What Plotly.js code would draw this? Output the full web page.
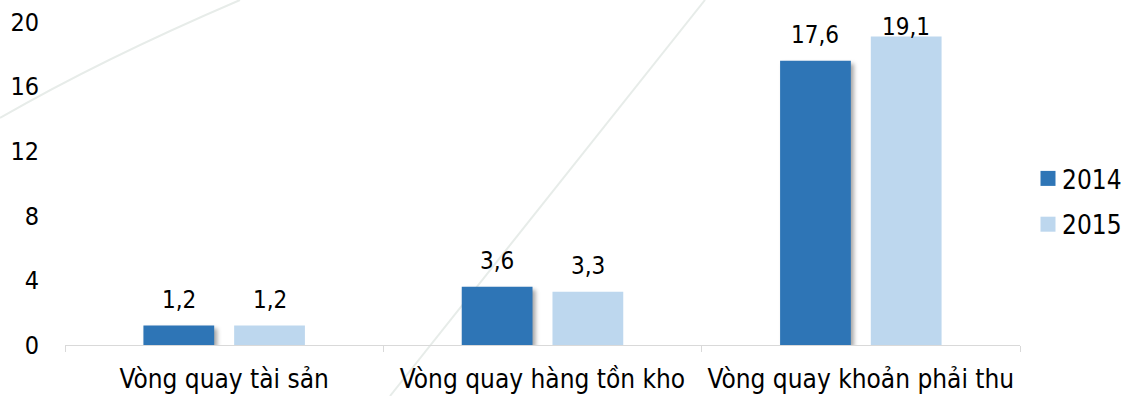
<!DOCTYPE html>
<html>
<head>
<meta charset="utf-8">
<script src="https://cdn.plot.ly/plotly-3.0.1.min.js"></script>
<style>
  html, body { margin: 0; padding: 0; background: #ffffff; }
  #wrap { position: relative; width: 1127px; height: 396px; overflow: hidden; }
  #bg { position: absolute; left: 0; top: 0; }
  #chart { position: absolute; left: 0; top: 0; width: 1127px; height: 396px; }
  /* soft drop shadow behind the darker bars */
  #chart .barlayer .trace:nth-child(1) .point path {
    filter: drop-shadow(3px 3px 2px rgba(0,0,0,0.35));
  }
  #chart .legend .legendpoints path {
    transform: translate(26px, 0) scale(1.25);
  }
</style>
</head>
<body>
<div id="wrap">
  <svg id="bg" width="1127" height="396">
    <path d="M0,118 Q100,60 240,0" fill="none" stroke="#e7ece9" stroke-width="2"/>
    <path d="M390,396 L705,0" fill="none" stroke="#e7ece9" stroke-width="2"/>
  </svg>
  <div id="chart"></div>
</div>
<script>
const categories = ['Vòng quay tài sản', 'Vòng quay hàng tồn kho', 'Vòng quay khoản phải thu'];
const seriesNames = ['2014', '2015'];
const values2014 = [1.2, 3.6, 17.6];
const values2015 = [1.2, 3.3, 19.1];
const yTicks = [0, 4, 8, 12, 16, 20];
const colors = ['#2E75B6', '#BDD7EE'];

const W = 1127, H = 396;
const M = { l: 65, r: 107, t: 22, b: 51 };
const Y_MAX = 20;
const BARGAP = 0.43;
const FAMILY = 'DejaVu Sans Condensed, DejaVu Sans, sans-serif';
const font = size => ({ family: FAMILY, size: size, color: '#000000' });

const plotW = W - M.l - M.r;
const plotH = H - M.t - M.b;
const pxPerCat = plotW / categories.length;
const slotShift = pxPerCat * (1 - BARGAP) / 4;

const series = [values2014, values2015];
const traces = series.map((vals, i) => ({
  type: 'bar',
  name: seriesNames[i],
  x: categories,
  y: vals,
  marker: { color: colors[i], line: { width: 0 } },
  legendgroup: 'g' + i,
  hoverinfo: 'skip'
}));

const fmt = v => v.toFixed(1).replace('.', ',');

// value labels above each bar, kept inside the top of the chart
const annotations = [];
series.forEach((vals, i) => {
  vals.forEach((v, j) => {
    const room = (1 - v / Y_MAX) * plotH - 21;
    annotations.push({
      xref: 'x', yref: 'y',
      x: categories[j], y: v,
      xshift: (i === 0 ? -1 : 1) * slotShift,
      yanchor: 'bottom',
      yshift: Math.min(10, room),
      text: fmt(v),
      showarrow: false,
      font: font(24)
    });
  });
});

const layout = {
  width: W, height: H,
  margin: M,
  paper_bgcolor: 'rgba(0,0,0,0)',
  plot_bgcolor: 'rgba(0,0,0,0)',
  font: font(24),
  barmode: 'group',
  bargap: BARGAP,
  bargroupgap: 0.22,
  showlegend: true,
  legend: {
    xref: 'container', yref: 'container',
    x: 1022 / W, xanchor: 'left',
    y: 1 - 201.5 / H, yanchor: 'middle',
    font: font(26),
    tracegroupgap: 9,
    bgcolor: 'rgba(0,0,0,0)'
  },
  xaxis: {
    type: 'category',
    showline: true, linecolor: '#d9d9d9', linewidth: 1,
    ticks: 'outside', tickson: 'boundaries', ticklen: 6, tickcolor: '#d9d9d9',
    showgrid: false, zeroline: false,
    tickfont: font(26),
    tickangle: 0,
    ticklabelstandoff: 11,
    automargin: false,
    fixedrange: true
  },
  yaxis: {
    range: [0, Y_MAX],
    tickvals: yTicks,
    ticktext: yTicks.map(String),
    showline: false, showgrid: false, zeroline: false,
    ticks: '',
    tickfont: font(25),
    ticklabelstandoff: 25,
    automargin: false,
    fixedrange: true
  },
  annotations: annotations
};

Plotly.newPlot('chart', traces, layout, { displayModeBar: false, staticPlot: true });
</script>
</body>
</html>
